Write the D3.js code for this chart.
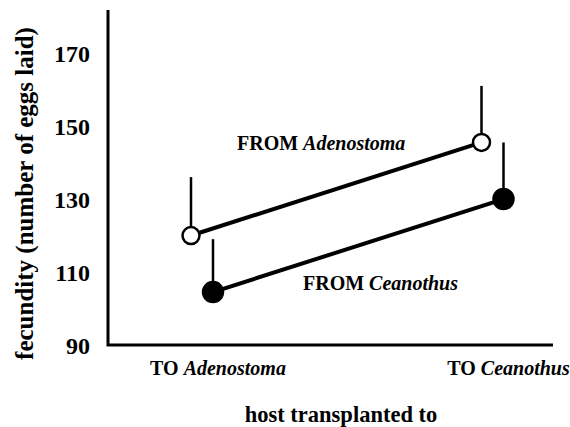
<!DOCTYPE html>
<html>
<head>
<meta charset="utf-8">
<script src="https://cdn.jsdelivr.net/npm/d3@7"></script>
<style>
  body { margin: 0; background: #fff; }
  svg text { font-family: "Liberation Serif", "Times New Roman", serif; font-weight: bold; fill: #000; }
</style>
</head>
<body>
<svg id="chart" width="570" height="427"></svg>
<script>
// data
var hosts = ["Adenostoma", "Ceanothus"];          // host transplanted to
var fromAdenostoma = [120, 145.5];                // open circles
var fromAdenostomaTop = [136, 161];               // upper end of error bar
var fromCeanothus = [104.5, 130];                 // filled circles
var fromCeanothusTop = [119, 145.5];
var yTicks = [90, 110, 130, 150, 170];

var plot = { left: 108, right: 553, top: 10, bottom: 345 };

var svg = d3.select("#chart");

var y = d3.scaleLinear().domain([90, 181.8]).range([plot.bottom, plot.top]);
var x = d3.scalePoint().domain(hosts).range([202, 492.5]);

// axis lines (L shape)
svg.append("path")
   .attr("d", "M" + plot.left + "," + plot.top + "V" + plot.bottom + "H" + plot.right)
   .attr("fill", "none")
   .attr("stroke", "#000")
   .attr("stroke-width", 3);

// y tick labels
var yAxis = svg.append("g")
   .attr("transform", "translate(" + plot.left + ",0)")
   .call(d3.axisLeft(y).tickValues(yTicks).tickSize(0).tickPadding(18));
yAxis.select(".domain").remove();
yAxis.selectAll("text")
     .attr("font-size", 24)
     .attr("font-family", "Liberation Serif")
     .attr("font-weight", "bold")
     .attr("dy", "0.35em");

// y title
svg.append("text")
   .attr("transform", "translate(33," + ((plot.top + plot.bottom) / 2 + 16) + ") rotate(-90)")
   .attr("text-anchor", "middle")
   .attr("font-size", 25)
   .text("fecundity (number of eggs laid)");

// x tick labels
var xl = svg.selectAll(".xlab").data(hosts).enter().append("text")
   .attr("class", "xlab")
   .attr("x", function(d) { return x(d) + 16; })
   .attr("y", 375)
   .attr("text-anchor", "middle")
   .attr("font-size", 20);
xl.append("tspan").text("TO ");
xl.append("tspan").attr("font-style", "italic").text(function(d) { return d; });

// x title
svg.append("text")
   .attr("x", 341)
   .attr("y", 422)
   .attr("text-anchor", "middle")
   .attr("font-size", 22.5)
   .text("host transplanted to");

function drawSeries(vals, tops, dx, filled) {
  var pts = hosts.map(function(h, i) { return { x: x(h) + dx, v: vals[i], t: tops[i] }; });
  var g = svg.append("g");
  g.selectAll(".err").data(pts).enter().append("line")
   .attr("x1", function(d) { return d.x; })
   .attr("x2", function(d) { return d.x; })
   .attr("y1", function(d) { return y(d.v); })
   .attr("y2", function(d) { return y(d.t); })
   .attr("stroke", "#000")
   .attr("stroke-width", 2.5);
  g.append("path")
   .datum(pts)
   .attr("d", d3.line().x(function(d) { return d.x; }).y(function(d) { return y(d.v); }))
   .attr("fill", "none")
   .attr("stroke", "#000")
   .attr("stroke-width", 4);
  g.selectAll(".pt").data(pts).enter().append("circle")
   .attr("cx", function(d) { return d.x; })
   .attr("cy", function(d) { return y(d.v); })
   .attr("r", filled ? 10 : 8.5)
   .attr("fill", filled ? "#000" : "#fff")
   .attr("stroke", "#000")
   .attr("stroke-width", 2.5);
}

drawSeries(fromAdenostoma, fromAdenostomaTop, -11, false);
drawSeries(fromCeanothus, fromCeanothusTop, 11, true);

// series labels
var a1 = svg.append("text").attr("x", 237).attr("y", 150).attr("font-size", 20);
a1.append("tspan").text("FROM ");
a1.append("tspan").attr("font-style", "italic").text("Adenostoma");
var a2 = svg.append("text").attr("x", 303).attr("y", 290).attr("font-size", 20);
a2.append("tspan").text("FROM ");
a2.append("tspan").attr("font-style", "italic").text("Ceanothus");
</script>
</body>
</html>
